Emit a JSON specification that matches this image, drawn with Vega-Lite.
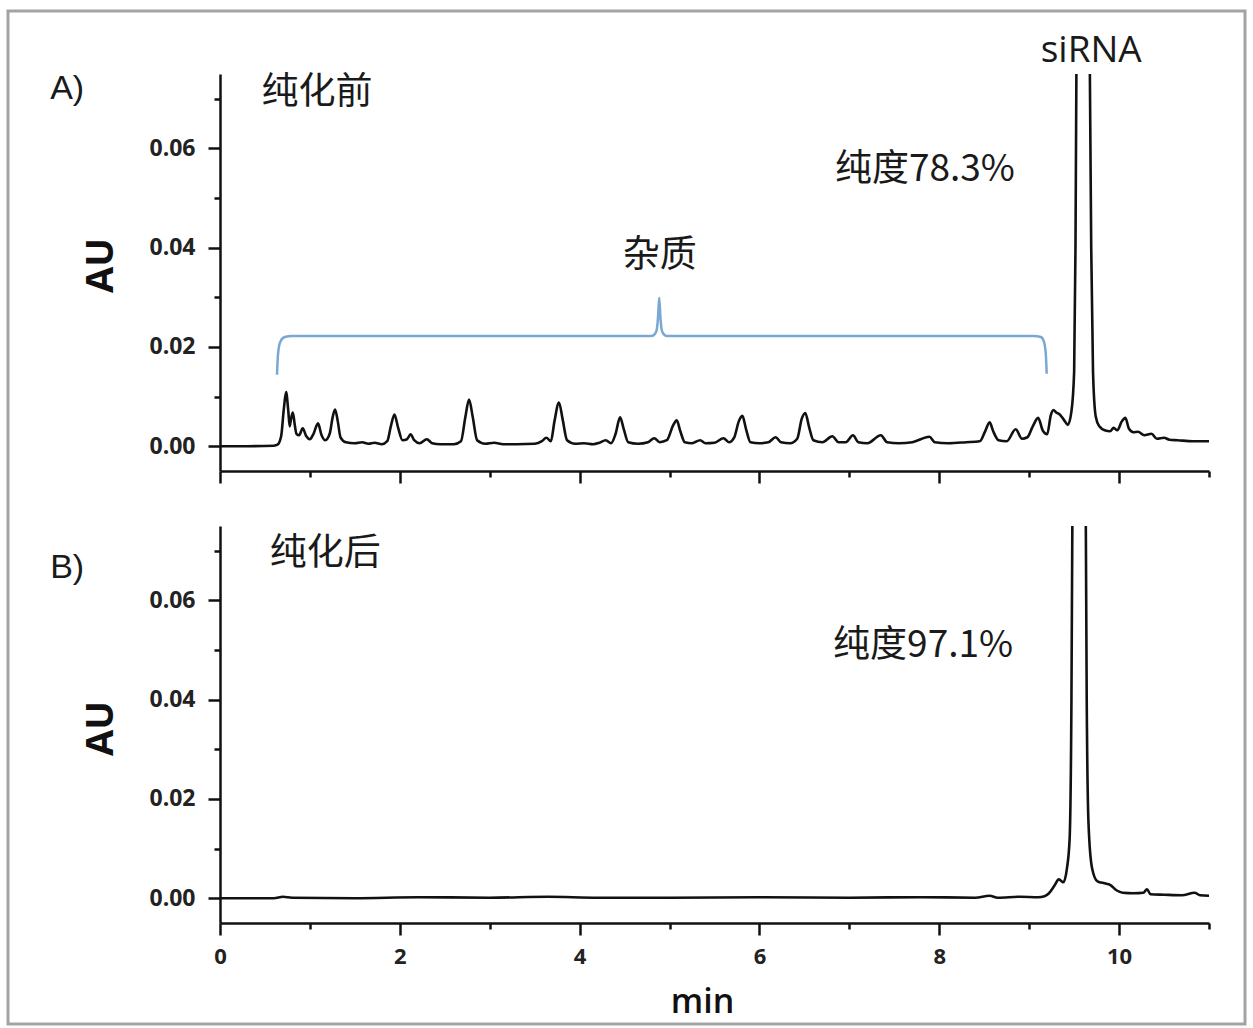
{
  "$schema": "https://vega.github.io/schema/vega-lite/v6.json",
  "width": 1237,
  "height": 1013,
  "autosize": "none",
  "padding": {"left": 8, "top": 11, "right": 8, "bottom": 4},
  "background": "white",
  "config": {
    "view": {"stroke": "#a3a3a3", "strokeWidth": 3, "fill": "white"},
    "axis": {
      "grid": false,
      "domainColor": "#111",
      "domainWidth": 2.5,
      "tickColor": "#111",
      "tickWidth": 2.5,
      "labelFont": "Open Sans",
      "labelFontWeight": "bold",
      "labelFontSize": 23,
      "labelColor": "#222",
      "labelFlush": false,
      "labelOverlap": false,
      "titleColor": "#111"
    }
  },
  "datasets": {
    "a": [
      {"t": 0.00, "v": 0.0000}, {"t": 0.30, "v": 0.0000}, {"t": 0.60, "v": 0.0001}, {"t": 0.64, "v": 0.0003},
      {"t": 0.68, "v": 0.0020}, {"t": 0.71, "v": 0.0075}, {"t": 0.735, "v": 0.0109}, {"t": 0.76, "v": 0.0070},
      {"t": 0.775, "v": 0.0040}, {"t": 0.79, "v": 0.0055}, {"t": 0.81, "v": 0.0068}, {"t": 0.83, "v": 0.0045},
      {"t": 0.85, "v": 0.0025}, {"t": 0.88, "v": 0.0022}, {"t": 0.92, "v": 0.0036}, {"t": 0.96, "v": 0.0020},
      {"t": 1.00, "v": 0.0014}, {"t": 1.04, "v": 0.0025}, {"t": 1.09, "v": 0.0046}, {"t": 1.13, "v": 0.0022},
      {"t": 1.17, "v": 0.0012}, {"t": 1.22, "v": 0.0025}, {"t": 1.255, "v": 0.0060}, {"t": 1.28, "v": 0.0074},
      {"t": 1.31, "v": 0.0050}, {"t": 1.34, "v": 0.0018}, {"t": 1.40, "v": 0.0008}, {"t": 1.50, "v": 0.0006},
      {"t": 1.58, "v": 0.0008}, {"t": 1.65, "v": 0.0005}, {"t": 1.72, "v": 0.0007}, {"t": 1.80, "v": 0.0004},
      {"t": 1.86, "v": 0.0010}, {"t": 1.90, "v": 0.0040}, {"t": 1.94, "v": 0.0064}, {"t": 1.98, "v": 0.0038},
      {"t": 2.03, "v": 0.0012}, {"t": 2.08, "v": 0.0014}, {"t": 2.12, "v": 0.0024}, {"t": 2.16, "v": 0.0012},
      {"t": 2.22, "v": 0.0006}, {"t": 2.30, "v": 0.0014}, {"t": 2.36, "v": 0.0006}, {"t": 2.45, "v": 0.0004},
      {"t": 2.60, "v": 0.0004}, {"t": 2.68, "v": 0.0010}, {"t": 2.73, "v": 0.0060}, {"t": 2.77, "v": 0.0094},
      {"t": 2.81, "v": 0.0060}, {"t": 2.86, "v": 0.0012}, {"t": 2.95, "v": 0.0005}, {"t": 3.05, "v": 0.0007},
      {"t": 3.15, "v": 0.0004}, {"t": 3.30, "v": 0.0004}, {"t": 3.50, "v": 0.0005}, {"t": 3.58, "v": 0.0010},
      {"t": 3.63, "v": 0.0017}, {"t": 3.68, "v": 0.0010}, {"t": 3.72, "v": 0.0050}, {"t": 3.77, "v": 0.0088},
      {"t": 3.81, "v": 0.0055}, {"t": 3.86, "v": 0.0012}, {"t": 3.95, "v": 0.0005}, {"t": 4.05, "v": 0.0006},
      {"t": 4.15, "v": 0.0004}, {"t": 4.22, "v": 0.0007}, {"t": 4.29, "v": 0.0012}, {"t": 4.35, "v": 0.0006},
      {"t": 4.40, "v": 0.0025}, {"t": 4.45, "v": 0.0058}, {"t": 4.49, "v": 0.0035}, {"t": 4.54, "v": 0.0008},
      {"t": 4.65, "v": 0.0005}, {"t": 4.76, "v": 0.0008}, {"t": 4.83, "v": 0.0016}, {"t": 4.89, "v": 0.0008},
      {"t": 4.97, "v": 0.0012}, {"t": 5.04, "v": 0.0042}, {"t": 5.08, "v": 0.0052}, {"t": 5.12, "v": 0.0030},
      {"t": 5.17, "v": 0.0008}, {"t": 5.25, "v": 0.0006}, {"t": 5.34, "v": 0.0012}, {"t": 5.40, "v": 0.0006},
      {"t": 5.50, "v": 0.0007}, {"t": 5.60, "v": 0.0016}, {"t": 5.66, "v": 0.0008}, {"t": 5.72, "v": 0.0018},
      {"t": 5.77, "v": 0.0050}, {"t": 5.81, "v": 0.0061}, {"t": 5.85, "v": 0.0035}, {"t": 5.90, "v": 0.0008},
      {"t": 6.00, "v": 0.0006}, {"t": 6.10, "v": 0.0008}, {"t": 6.18, "v": 0.0018}, {"t": 6.24, "v": 0.0008},
      {"t": 6.34, "v": 0.0006}, {"t": 6.42, "v": 0.0015}, {"t": 6.47, "v": 0.0055}, {"t": 6.51, "v": 0.0067},
      {"t": 6.55, "v": 0.0040}, {"t": 6.60, "v": 0.0012}, {"t": 6.70, "v": 0.0008}, {"t": 6.81, "v": 0.0020},
      {"t": 6.88, "v": 0.0008}, {"t": 6.96, "v": 0.0008}, {"t": 7.04, "v": 0.0022}, {"t": 7.10, "v": 0.0008},
      {"t": 7.20, "v": 0.0006}, {"t": 7.35, "v": 0.0022}, {"t": 7.42, "v": 0.0008}, {"t": 7.55, "v": 0.0006},
      {"t": 7.70, "v": 0.0008}, {"t": 7.89, "v": 0.0019}, {"t": 7.95, "v": 0.0008}, {"t": 8.10, "v": 0.0006},
      {"t": 8.30, "v": 0.0008}, {"t": 8.45, "v": 0.0010}, {"t": 8.51, "v": 0.0030}, {"t": 8.56, "v": 0.0048},
      {"t": 8.60, "v": 0.0030}, {"t": 8.66, "v": 0.0012}, {"t": 8.75, "v": 0.0010}, {"t": 8.85, "v": 0.0034},
      {"t": 8.92, "v": 0.0015}, {"t": 8.98, "v": 0.0018}, {"t": 9.04, "v": 0.0040}, {"t": 9.10, "v": 0.0057},
      {"t": 9.15, "v": 0.0032}, {"t": 9.20, "v": 0.0024}, {"t": 9.24, "v": 0.0062}, {"t": 9.27, "v": 0.0073},
      {"t": 9.30, "v": 0.0068}, {"t": 9.34, "v": 0.0064}, {"t": 9.39, "v": 0.0052}, {"t": 9.43, "v": 0.0043},
      {"t": 9.47, "v": 0.0070}, {"t": 9.50, "v": 0.0150}, {"t": 9.515, "v": 0.0400}, {"t": 9.525, "v": 0.0800},
      {"t": 9.60, "v": null}, {"t": 9.675, "v": 0.0800}, {"t": 9.69, "v": 0.0400}, {"t": 9.71, "v": 0.0150},
      {"t": 9.74, "v": 0.0060}, {"t": 9.78, "v": 0.0040}, {"t": 9.84, "v": 0.0032}, {"t": 9.90, "v": 0.0030},
      {"t": 9.94, "v": 0.0037}, {"t": 9.98, "v": 0.0032}, {"t": 10.03, "v": 0.0050}, {"t": 10.07, "v": 0.0057},
      {"t": 10.11, "v": 0.0035}, {"t": 10.16, "v": 0.0028}, {"t": 10.21, "v": 0.0029}, {"t": 10.28, "v": 0.0022},
      {"t": 10.36, "v": 0.0025}, {"t": 10.42, "v": 0.0015}, {"t": 10.50, "v": 0.0017}, {"t": 10.56, "v": 0.0013},
      {"t": 10.65, "v": 0.0012}, {"t": 10.82, "v": 0.0010}, {"t": 11.00, "v": 0.0010}
    ],
    "b": [
      {"t": 0.00, "v": 0.0000}, {"t": 0.60, "v": 0.0000}, {"t": 0.70, "v": 0.0003}, {"t": 0.80, "v": 0.0001},
      {"t": 1.50, "v": 0.0000}, {"t": 2.20, "v": 0.0002}, {"t": 3.00, "v": 0.0001}, {"t": 3.65, "v": 0.0003},
      {"t": 4.20, "v": 0.0001}, {"t": 5.00, "v": 0.0001}, {"t": 6.00, "v": 0.0002}, {"t": 7.00, "v": 0.0001},
      {"t": 7.80, "v": 0.0002}, {"t": 8.40, "v": 0.0001}, {"t": 8.56, "v": 0.0005}, {"t": 8.65, "v": 0.0001},
      {"t": 8.90, "v": 0.0003}, {"t": 9.10, "v": 0.0002}, {"t": 9.17, "v": 0.0004}, {"t": 9.22, "v": 0.0010},
      {"t": 9.28, "v": 0.0025}, {"t": 9.33, "v": 0.0038}, {"t": 9.38, "v": 0.0032}, {"t": 9.42, "v": 0.0060},
      {"t": 9.45, "v": 0.0120}, {"t": 9.47, "v": 0.0400}, {"t": 9.48, "v": 0.0800}, {"t": 9.555, "v": null},
      {"t": 9.63, "v": 0.0800}, {"t": 9.64, "v": 0.0400}, {"t": 9.66, "v": 0.0150}, {"t": 9.70, "v": 0.0060},
      {"t": 9.76, "v": 0.0034}, {"t": 9.84, "v": 0.0030}, {"t": 9.90, "v": 0.0027}, {"t": 9.97, "v": 0.0016},
      {"t": 10.04, "v": 0.0011}, {"t": 10.16, "v": 0.0010}, {"t": 10.27, "v": 0.0011}, {"t": 10.31, "v": 0.0018},
      {"t": 10.35, "v": 0.0008}, {"t": 10.50, "v": 0.0007}, {"t": 10.70, "v": 0.0006}, {"t": 10.84, "v": 0.0011},
      {"t": 10.90, "v": 0.0006}, {"t": 11.00, "v": 0.0005}
    ],
    "bracket": [
      {"t": 0.634, "v": 0.0144}, {"t": 0.645, "v": 0.0185}, {"t": 0.67, "v": 0.0210}, {"t": 0.72, "v": 0.0220},
      {"t": 0.80, "v": 0.0222}, {"t": 4.80, "v": 0.0222}, {"t": 4.85, "v": 0.0230}, {"t": 4.87, "v": 0.0255},
      {"t": 4.885, "v": 0.0299}, {"t": 4.90, "v": 0.0255}, {"t": 4.92, "v": 0.0230}, {"t": 4.97, "v": 0.0222},
      {"t": 9.05, "v": 0.0222}, {"t": 9.13, "v": 0.0220}, {"t": 9.165, "v": 0.0210}, {"t": 9.185, "v": 0.0185},
      {"t": 9.195, "v": 0.0146}
    ],
    "panelA": [{"t": -1.70, "v": 0.0719, "text": "A)"}],
    "panelB": [{"t": -1.70, "v": 0.0666, "text": "B)"}],
    "notesA": [
      {"t": 1.08, "v": 0.0711, "text": "纯化前"},
      {"t": 7.84, "v": 0.0557, "text": "纯度78.3%"},
      {"t": 4.89, "v": 0.0384, "text": "杂质"}
    ],
    "notesB": [
      {"t": 1.17, "v": 0.0694, "text": "纯化后"},
      {"t": 7.82, "v": 0.0508, "text": "纯度97.1%"}
    ],
    "peakName": [{"t": 9.69, "v": 0.075, "text": "siRNA"}]
  },
  "layer": [
    {
      "layer": [
        {
          "data": {"name": "a"},
          "mark": {"type": "line", "color": "#111", "strokeWidth": 2.6, "interpolate": "monotone", "invalid": "break-paths-show-domains"},
          "encoding": {
            "x": {
              "field": "t", "type": "quantitative",
              "scale": {"domain": [0, 11], "range": [212, 1201], "nice": false, "zero": false},
              "axis": {
                "orient": "bottom", "offset": -553,
                "values": [0, 2, 4, 6, 8, 10],
                "labels": false, "tickSize": 12, "title": null
              }
            },
            "y": {
              "field": "v", "type": "quantitative",
              "scale": {"domain": [-0.005, 0.075], "range": [460, 63], "nice": false, "zero": false, "clamp": true},
              "axis": {
                "orient": "left", "offset": -212,
                "values": [0, 0.02, 0.04, 0.06],
                "format": ".2f",
                "labelPadding": 13, "tickSize": 12,
                "title": "AU",
                "titleFont": "Open Sans", "titleFontWeight": "bold", "titleFontSize": 38,
                "titleX": -119, "titleY": 254, "titleBaseline": "middle", "titleAlign": "center", "titleAngle": -90
              }
            }
          }
        },
        {
          "data": {"name": "bracket"},
          "mark": {"type": "line", "color": "#7aa8d3", "strokeWidth": 2.5, "interpolate": "monotone"},
          "encoding": {
            "x": {"field": "t", "type": "quantitative", "axis": null},
            "y": {"field": "v", "type": "quantitative", "axis": null}
          }
        },
        {
          "data": {"name": "panelA"},
          "mark": {"type": "text", "font": "Liberation Sans", "fontSize": 34, "color": "#1a1a1a", "align": "center", "baseline": "middle"},
          "encoding": {
            "x": {
              "field": "t", "type": "quantitative",
              "axis": {"orient": "bottom", "offset": -553, "values": [1, 3, 5, 7, 9, 11], "labels": false, "tickSize": 6, "domain": false, "title": null}
            },
            "y": {
              "field": "v", "type": "quantitative",
              "axis": {"orient": "left", "offset": -212, "values": [0.01, 0.03, 0.05, 0.07], "labels": false, "tickSize": 6, "domain": false, "title": null}
            },
            "text": {"field": "text"}
          }
        },
        {
          "data": {"name": "notesA"},
          "mark": {"type": "text", "font": "Noto Sans CJK SC", "fontSize": 37, "color": "#1a1a1a", "align": "center", "baseline": "middle"},
          "encoding": {
            "x": {"field": "t", "type": "quantitative", "axis": null},
            "y": {"field": "v", "type": "quantitative", "axis": null},
            "text": {"field": "text"}
          }
        },
        {
          "data": {"name": "peakName"},
          "mark": {"type": "text", "font": "Open Sans", "fontSize": 37, "color": "#1a1a1a", "align": "center", "baseline": "alphabetic", "dy": -12},
          "encoding": {
            "x": {"field": "t", "type": "quantitative", "axis": null},
            "y": {"field": "v", "type": "quantitative", "axis": null},
            "text": {"field": "text"}
          }
        }
      ],
      "resolve": {"axis": {"x": "independent", "y": "independent"}}
    },
    {
      "layer": [
        {
          "data": {"name": "b"},
          "mark": {"type": "line", "color": "#111", "strokeWidth": 2.6, "interpolate": "monotone", "invalid": "break-paths-show-domains"},
          "encoding": {
            "x": {
              "field": "t", "type": "quantitative",
              "scale": {"domain": [0, 11], "range": [212, 1201], "nice": false, "zero": false},
              "axis": {
                "orient": "bottom", "offset": -101,
                "values": [0, 2, 4, 6, 8, 10],
                "format": "d",
                "labelFontSize": 22,
                "labelPadding": 11, "tickSize": 12,
                "title": "min",
                "titleFont": "Open Sans", "titleFontWeight": 600, "titleFontSize": 34,
                "titleX": 694, "titleY": 89, "titleBaseline": "alphabetic", "titleAlign": "center"
              }
            },
            "y": {
              "field": "v", "type": "quantitative",
              "scale": {"domain": [-0.005, 0.075], "range": [912, 515], "nice": false, "zero": false, "clamp": true},
              "axis": {
                "orient": "left", "offset": -212,
                "values": [0, 0.02, 0.04, 0.06],
                "format": ".2f",
                "labelPadding": 13, "tickSize": 12,
                "title": "AU",
                "titleFont": "Open Sans", "titleFontWeight": "bold", "titleFontSize": 38,
                "titleX": -119, "titleY": 717, "titleBaseline": "middle", "titleAlign": "center", "titleAngle": -90
              }
            }
          }
        },
        {
          "data": {"name": "panelB"},
          "mark": {"type": "text", "font": "Liberation Sans", "fontSize": 34, "color": "#1a1a1a", "align": "center", "baseline": "middle"},
          "encoding": {
            "x": {
              "field": "t", "type": "quantitative",
              "axis": {"orient": "bottom", "offset": -101, "values": [1, 3, 5, 7, 9, 11], "labels": false, "tickSize": 6, "domain": false, "title": null}
            },
            "y": {
              "field": "v", "type": "quantitative",
              "axis": {"orient": "left", "offset": -212, "values": [0.01, 0.03, 0.05, 0.07], "labels": false, "tickSize": 6, "domain": false, "title": null}
            },
            "text": {"field": "text"}
          }
        },
        {
          "data": {"name": "notesB"},
          "mark": {"type": "text", "font": "Noto Sans CJK SC", "fontSize": 37, "color": "#1a1a1a", "align": "center", "baseline": "middle"},
          "encoding": {
            "x": {"field": "t", "type": "quantitative", "axis": null},
            "y": {"field": "v", "type": "quantitative", "axis": null},
            "text": {"field": "text"}
          }
        }
      ],
      "resolve": {"axis": {"x": "independent", "y": "independent"}}
    }
  ],
  "resolve": {
    "scale": {"y": "independent"},
    "axis": {"x": "independent", "y": "independent"}
  }
}
